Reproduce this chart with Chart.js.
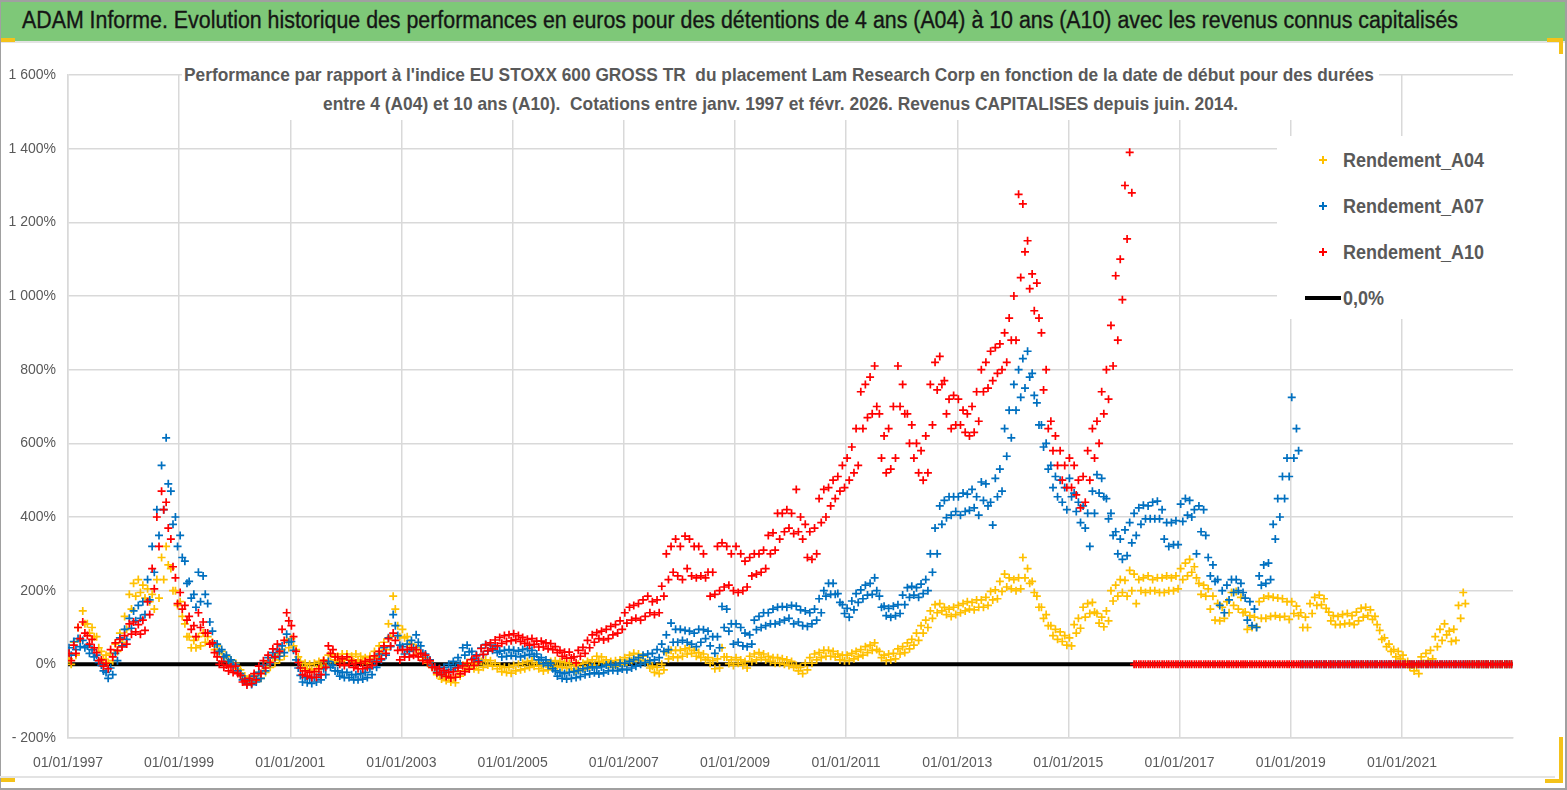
<!DOCTYPE html>
<html>
<head>
<meta charset="utf-8">
<script src="https://cdn.jsdelivr.net/npm/chart.js@4.4.1/dist/chart.umd.min.js"></script>
<style>
  html, body { margin: 0; padding: 0; background: #fff; }
  body { width: 1567px; height: 790px; position: relative; overflow: hidden;
         font-family: 'Liberation Sans Narrow', 'Liberation Sans', Arial, sans-serif; }
  #chart { position: absolute; left: 0; top: 0; }
  .abs { position: absolute; }
  .fit { display: inline-block; white-space: pre; transform-origin: 0 50%; }
  #banner { left: 0; top: 1px; width: 1567px; height: 40px; background: #7ec878; border-bottom: 2px solid #e3e3e3; }
  #title { left: 22px; top: 7px; font-size: 23px; color: #151515; line-height: 26px; -webkit-text-stroke: 0.35px #151515; }
  .sub { font-size: 19px; font-weight: bold; color: #595959; line-height: 22px; }
  #subBox { left: 182px; top: 58px; width: 1197px; height: 62px; background: #fff; }
  #legendBox { left: 1277px; top: 136px; width: 236px; height: 183px; background: #fff; }
  .lg { font-size: 20px; font-weight: bold; color: #595959; line-height: 24px; }
  .mk { position: absolute; width: 8px; height: 8px; }
  .mk::before { content: ''; position: absolute; left: 0; top: 3px; width: 8px; height: 2px; background: currentColor; }
  .mk::after { content: ''; position: absolute; left: 3px; top: 0; width: 2px; height: 8px; background: currentColor; }
  .edge { position: absolute; background: #a0a0a0; }
  .hand { position: absolute; background: #f4c21a; }
</style>
</head>
<body>
<canvas id="chart" width="1567" height="790"></canvas>

<div id="banner" class="abs"></div>
<div id="title" class="abs fit">ADAM Informe. Evolution historique des performances en euros pour des détentions de 4 ans (A04) à 10 ans (A10) avec les revenus connus capitalisés</div>

<div id="subBox" class="abs"></div>
<div id="sub1" class="abs fit sub" style="left:184px; top:64px;">Performance par rapport à l'indice EU STOXX 600 GROSS TR  du placement Lam Research Corp en fonction de la date de début pour des durées</div>
<div id="sub2" class="abs fit sub" style="left:323px; top:93px;">entre 4 (A04) et 10 ans (A10).  Cotations entre janv. 1997 et févr. 2026. Revenus CAPITALISES depuis juin. 2014.</div>

<div id="legendBox" class="abs"></div>
<div id="legend"></div>

<div class="edge" style="left:0; top:0; width:1567px; height:2px;"></div>
<div class="edge" style="left:0; top:0; width:1px; height:790px;"></div>
<div class="edge" style="left:1565px; top:0; width:2px; height:790px;"></div>
<div class="edge" style="left:0; top:788px; width:1567px; height:2px;"></div>
<div class="abs" style="left:0; top:776px; width:1555px; height:2px; background:#e3e3e3;"></div>
<div class="hand" style="left:1px; top:38px; width:14px; height:4px;"></div>
<div class="hand" style="left:1547px; top:38px; width:16px; height:4px;"></div>
<div class="hand" style="left:1559px; top:38px; width:4px; height:16px;"></div>
<div class="hand" style="left:1559px; top:737px; width:4px; height:46px;"></div>
<div class="hand" style="left:1545px; top:779px; width:18px; height:4px;"></div>
<div class="hand" style="left:1px; top:778px; width:14px; height:4px;"></div>

<script>
/* ─────────────────────────────────────────────
   Rendements A04 / A07 / A10 vs EU STOXX 600 GROSS TR
   start dates Jan 1997 → Dec 2022, values in %.
   For each month: upper (Hi) and lower (Lo) edge of the cloud of points
   ───────────────────────────────────────────── */

const startYear = 1997;
const tickYears = [1997, 1999, 2001, 2003, 2005, 2007, 2009, 2011, 2013, 2015, 2017, 2019, 2021];
const seriesNames = ['Rendement_A04', 'Rendement_A07', 'Rendement_A10', '0,0%'];
const seriesColors = ['#ffc000', '#0070c0', '#ff0000', '#000000'];

const a04Hi = [
  15, 60, 100, 145, 110, 100, 75, 35, 25, 30, 55, 85,         // 1997
  130, 190, 220, 230, 215, 205, 190, 230, 290, 320, 260, 200, // 1998
  170, 110, 75, 65, 75, 85, 75, 60, 50, 35, 22, 12,           // 1999
  3, -15, -32, -38, -30, -22, -5, 8, 18, 30, 40, 65,          // 2000
  70, 40, 8, 3, 0, 3, 8, 12, 25, 28, 22, 28,                  // 2001
  28, 22, 28, 22, 18, 22, 35, 50, 60, 110, 185, 105,          // 2002
  95, 75, 55, 45, 28, 18, 8, -12, -28, -30, -35, -36,         // 2003
  -18, -3, 5, 3, 0, 8, 12, 10, 3, -5, -8, -8,                 // 2004
  -3, 0, 3, 8, 10, 3, -3, 0, 8, 10, 8, 5,                     // 2005
  3, -3, 0, 3, 8, 12, 22, 20, 12, 8, 10, 12,                  // 2006
  18, 25, 30, 28, 22, 5, -5, -8, 0, 32, 38, 38,               // 2007
  38, 42, 45, 38, 32, 28, 18, 10, 15, 45, 20, 12,             // 2008
  18, 12, 8, 22, 28, 32, 28, 22, 18, 18, 15, 12,              // 2009
  8, -3, -8, 3, 18, 28, 32, 38, 38, 35, 28, 25,               // 2010
  25, 30, 35, 40, 48, 52, 58, 35, 25, 28, 30, 42,             // 2011
  48, 58, 68, 85, 105, 120, 145, 162, 165, 155, 150, 155,     // 2012
  160, 165, 170, 168, 175, 175, 182, 198, 202, 225, 245, 235, // 2013
  230, 235, 290, 260, 225, 185, 155, 135, 105, 95, 88, 78,    // 2014
  72, 108, 125, 155, 165, 168, 138, 128, 145, 200, 215, 230,  // 2015
  228, 255, 245, 230, 235, 240, 230, 235, 235, 240, 235, 240, // 2016
  260, 275, 285, 265, 220, 215, 205, 185, 165, 155, 170, 195, // 2017
  198, 182, 142, 132, 128, 170, 180, 185, 182, 180, 178, 170, // 2018
  170, 158, 140, 128, 165, 182, 188, 178, 142, 132, 130, 135, // 2019
  138, 132, 142, 152, 155, 148, 130, 92, 72, 55, 40, 35,      // 2020
  25, 8, -2, -5, 20, 30, 38, 75, 95, 110, 90, 95,             // 2021
  160, 195, 0, 0, 0, 0, 0, 0, 0, 0, 0, 0                      // 2022
];
const a04Lo = [
  0, 25, 65, 110, 85, 75, 45, 15, 5, 10, 35, 60,              // 1997
  95, 150, 185, 195, 180, 170, 150, 180, 230, 270, 200, 160,  // 1998
  130, 75, 45, 45, 50, 60, 55, 40, 30, 18, 8, 0,              // 1999
  -12, -32, -46, -50, -45, -38, -22, -8, 3, 12, 22, 45,       // 2000
  50, 20, -8, -12, -15, -12, -6, -2, 8, 12, 8, 12,            // 2001
  12, 8, 12, 8, 3, 8, 18, 30, 40, 75, 150, 75,                // 2002
  72, 55, 38, 28, 12, 3, -8, -28, -40, -44, -48, -50,         // 2003
  -32, -18, -10, -12, -15, -8, -2, -5, -12, -20, -22, -24,    // 2004
  -18, -15, -12, -8, -5, -12, -18, -15, -8, -5, -8, -10,      // 2005
  -12, -18, -15, -12, -8, -2, 8, 5, -2, -8, -5, -2,           // 2006
  5, 10, 12, 10, 5, -10, -22, -25, -15, 15, 20, 18,           // 2007
  22, 28, 30, 22, 18, 12, 3, -12, -10, 20, 2, -3,             // 2008
  3, -3, -10, 8, 12, 18, 12, 8, 3, 3, 0, -3,                  // 2009
  -8, -18, -25, -15, 3, 12, 18, 22, 22, 20, 12, 10,           // 2010
  10, 15, 20, 25, 32, 38, 40, 18, 10, 12, 15, 28,             // 2011
  32, 42, 52, 65, 85, 100, 125, 140, 145, 135, 130, 135,      // 2012
  140, 145, 150, 148, 155, 155, 160, 175, 178, 198, 210, 205, // 2013
  200, 205, 235, 220, 195, 155, 125, 105, 78, 68, 62, 52,     // 2014
  50, 85, 98, 128, 138, 142, 112, 102, 118, 172, 185, 195,    // 2015
  185, 200, 165, 200, 195, 200, 200, 195, 195, 200, 200, 205, // 2016
  230, 240, 250, 235, 190, 185, 150, 120, 118, 125, 140, 160, // 2017
  150, 140, 95, 100, 102, 125, 125, 130, 132, 128, 130, 122,  // 2018
  138, 132, 100, 100, 138, 160, 162, 152, 118, 108, 108, 110, // 2019
  112, 108, 118, 128, 132, 122, 108, 68, 48, 35, 20, 15,      // 2020
  5, -8, -18, -25, 2, 10, 15, 48, 65, 80, 62, 65,             // 2021
  125, 165, 0, 0, 0, 0, 0, 0, 0, 0, 0, 0                      // 2022
];

const a07Hi = [
  45, 62, 70, 65, 50, 40, 25, -2, -22, -10, 30, 72,           // 1997
  95, 125, 145, 160, 170, 230, 320, 420, 540, 615, 470, 400,  // 1998
  350, 280, 225, 190, 250, 240, 165, 90, 55, 40, 25, 12,      // 1999
  0, -25, -40, -43, -32, -22, -2, 18, 32, 40, 50, 82,         // 2000
  62, 12, -30, -35, -38, -35, -28, -12, 8, -2, -18, -22,      // 2001
  -22, -28, -28, -26, -22, -12, 8, 28, 45, 72, 135, 78,       // 2002
  48, 55, 65, 80, 50, 28, 12, -8, -12, -8, 0, 8,              // 2003
  18, 45, 52, 35, 26, 44, 54, 52, 48, 36, 38, 40,             // 2004
  38, 36, 40, 43, 38, 28, 18, 12, 3, -18, -22, -25,           // 2005
  -22, -20, -17, -12, -10, -7, -10, -7, -2, 0, -2, 3,         // 2006
  3, 8, 13, 18, 25, 28, 30, 40, 55, 80, 112, 95,              // 2007
  95, 92, 90, 85, 95, 94, 90, 75, 75, 157, 150, 110,          // 2008
  110, 100, 85, 80, 120, 130, 140, 140, 150, 155, 157, 155,   // 2009
  160, 158, 148, 145, 140, 150, 178, 200, 220, 220, 192, 162, // 2010
  152, 172, 192, 202, 215, 220, 235, 185, 158, 152, 158, 162, // 2011
  188, 208, 212, 208, 218, 230, 300, 370, 430, 445, 455, 455, // 2012
  455, 465, 462, 475, 455, 495, 490, 440, 505, 530, 640, 690, // 2013
  760, 800, 830, 850, 790, 710, 650, 600, 540, 510, 500, 480, // 2014
  505, 465, 440, 430, 410, 470, 515, 505, 450, 410, 360, 340, // 2015
  365, 385, 410, 425, 432, 430, 440, 443, 420, 385, 385, 390, // 2016
  435, 450, 445, 420, 430, 420, 290, 270, 230, 200, 215, 230, // 2017
  230, 220, 180, 170, 150, 240, 270, 275, 380, 450, 510, 560, // 2018
  725, 640, 0, 0, 0, 0, 0, 0, 0, 0, 0, 0,                     // 2019
  0, 0, 0, 0, 0, 0, 0, 0, 0, 0, 0, 0,                         // 2020
  0, 0, 0, 0, 0, 0, 0, 0, 0, 0, 0, 0,                         // 2021
  0, 0, 0, 0, 0, 0, 0, 0, 0, 0, 0, 0                          // 2022
];
const a07Lo = [
  25, 40, 48, 45, 30, 20, 5, -18, -38, -28, 10, 50,           // 1997
  68, 98, 118, 125, 135, 175, 250, 350, 420, 490, 380, 320,   // 1998
  290, 220, 180, 155, 170, 190, 115, 55, 35, 20, 8, -3,       // 1999
  -18, -42, -52, -55, -48, -38, -18, 2, 18, 22, 32, 60,       // 2000
  38, -10, -48, -50, -52, -48, -42, -28, -8, -18, -32, -36,   // 2001
  -36, -42, -42, -40, -36, -28, -8, 12, 25, 48, 105, 52,      // 2002
  28, 35, 45, 60, 30, 12, -3, -22, -28, -22, -14, -8,         // 2003
  2, 25, 34, 16, 10, 26, 36, 38, 32, 20, 22, 24,              // 2004
  22, 20, 24, 27, 22, 12, 2, -3, -12, -32, -38, -40,          // 2005
  -38, -36, -33, -28, -26, -23, -26, -23, -18, -16, -18, -13, // 2006
  -15, -10, -5, 0, 5, 10, 12, 18, 35, 40, 60, 60,             // 2007
  65, 60, 55, 48, 60, 70, 50, 30, 45, 100, 90, 55,            // 2008
  60, 50, 48, 55, 94, 100, 105, 110, 110, 115, 120, 125,      // 2009
  110, 115, 105, 103, 110, 120, 140, 185, 190, 190, 168, 138, // 2010
  128, 148, 168, 178, 188, 190, 200, 155, 132, 128, 132, 138, // 2011
  162, 182, 188, 182, 192, 200, 250, 300, 380, 398, 405, 415, // 2012
  405, 415, 418, 425, 405, 445, 430, 378, 455, 470, 565, 615, // 2013
  690, 725, 750, 780, 730, 650, 590, 530, 480, 455, 440, 420, // 2014
  455, 415, 385, 370, 320, 410, 465, 455, 395, 350, 300, 285, // 2015
  295, 330, 350, 380, 395, 395, 395, 395, 340, 320, 325, 325, // 2016
  388, 405, 400, 300, 360, 350, 240, 225, 160, 140, 175, 195, // 2017
  200, 195, 120, 105, 100, 215, 220, 230, 340, 400, 450, 510, // 2018
  560, 580, 0, 0, 0, 0, 0, 0, 0, 0, 0, 0,                     // 2019
  0, 0, 0, 0, 0, 0, 0, 0, 0, 0, 0, 0,                         // 2020
  0, 0, 0, 0, 0, 0, 0, 0, 0, 0, 0, 0,                         // 2021
  0, 0, 0, 0, 0, 0, 0, 0, 0, 0, 0, 0                          // 2022
];

const a10Hi = [
  30, 52, 100, 115, 78, 68, 32, 12, 3, 40, 58, 68,            // 1997
  78, 110, 115, 108, 120, 170, 260, 400, 470, 440, 340, 235,  // 1998
  195, 160, 130, 105, 140, 115, 85, 58, 20, 8, -2, -7,        // 1999
  -5, -30, -45, -38, -25, -5, 10, 25, 42, 55, 95, 140,        // 2000
  105, 35, -10, -18, -22, -20, -12, 10, 50, 40, 20, 15,       // 2001
  20, 10, 3, 3, 8, 13, 23, 35, 50, 70, 85, 38,                // 2002
  40, 40, 45, 40, 30, 25, 10, -7, -12, -17, -22, -20,         // 2003
  -10, -4, 3, 13, 23, 43, 53, 58, 66, 73, 78, 80,             // 2004
  83, 78, 73, 68, 70, 63, 63, 58, 56, 48, 38, 33,             // 2005
  33, 20, 38, 46, 65, 80, 86, 90, 95, 103, 108, 118,          // 2006
  140, 155, 160, 165, 175, 185, 170, 175, 212, 300, 320, 340, // 2007
  320, 348, 340, 320, 320, 300, 250, 250, 320, 330, 320, 300, // 2008
  320, 300, 280, 290, 300, 300, 310, 350, 357, 410, 410, 420, // 2009
  410, 475, 400, 380, 360, 370, 450, 475, 480, 500, 510, 540, // 2010
  560, 590, 640, 740, 760, 780, 810, 680, 620, 640, 700, 810, // 2011
  760, 680, 650, 600, 580, 620, 760, 820, 836, 770, 720, 730, // 2012
  720, 690, 680, 700, 740, 800, 820, 850, 860, 870, 900, 940, // 2013
  1000, 1276, 1250, 1150, 1060, 1035, 900, 800, 660, 620, 580, 540, // 2014
  560, 540, 500, 510, 580, 640, 660, 740, 800, 920, 1055, 1100,     // 2015
  1300, 1390, 0, 0, 0, 0, 0, 0, 0, 0, 0, 0,                   // 2016
  0, 0, 0, 0, 0, 0, 0, 0, 0, 0, 0, 0,                         // 2017
  0, 0, 0, 0, 0, 0, 0, 0, 0, 0, 0, 0,                         // 2018
  0, 0, 0, 0, 0, 0, 0, 0, 0, 0, 0, 0,                         // 2019
  0, 0, 0, 0, 0, 0, 0, 0, 0, 0, 0, 0,                         // 2020
  0, 0, 0, 0, 0, 0, 0, 0, 0, 0, 0, 0,                         // 2021
  0, 0, 0, 0, 0, 0, 0, 0, 0, 0, 0, 0                          // 2022
];
const a10Lo = [
  10, 30, 70, 85, 55, 45, 10, -5, -12, 20, 38, 47,            // 1997
  55, 82, 88, 82, 92, 135, 205, 320, 420, 370, 265, 165,      // 1998
  150, 120, 95, 75, 100, 85, 55, 32, 0, -8, -18, -22,         // 1999
  -25, -48, -56, -52, -42, -25, -10, 5, 20, 35, 65, 118,      // 2000
  75, 5, -28, -32, -36, -35, -28, -8, 30, 20, 0, -3,          // 2001
  0, -8, -12, -12, -8, -3, 7, 15, 30, 50, 65, 12,             // 2002
  20, 20, 25, 20, 10, 5, -8, -23, -28, -33, -37, -35,         // 2003
  -26, -20, -13, -3, 7, 27, 37, 42, 50, 57, 62, 64,           // 2004
  67, 62, 57, 52, 54, 47, 47, 42, 40, 32, 22, 17,             // 2005
  17, 4, 22, 30, 45, 60, 70, 66, 70, 80, 85, 95,              // 2006
  112, 120, 125, 120, 130, 140, 135, 140, 185, 230, 250, 240, // 2007
  230, 260, 240, 235, 240, 235, 185, 190, 200, 210, 215, 200, // 2008
  195, 200, 210, 240, 245, 250, 260, 300, 310, 340, 360, 370, // 2009
  355, 360, 340, 290, 285, 300, 385, 400, 430, 450, 470, 480, // 2010
  500, 520, 540, 640, 670, 680, 700, 560, 520, 530, 560, 700, // 2011
  680, 600, 560, 520, 500, 520, 650, 745, 760, 680, 640, 650, // 2012
  650, 630, 620, 630, 660, 740, 750, 770, 790, 800, 820, 880, // 2013
  880, 1050, 1120, 1020, 960, 940, 745, 640, 580, 540, 500, 480,    // 2014
  480, 460, 425, 440, 500, 560, 600, 680, 720, 810, 880, 990,       // 2015
  1155, 1280, 0, 0, 0, 0, 0, 0, 0, 0, 0, 0,                   // 2016
  0, 0, 0, 0, 0, 0, 0, 0, 0, 0, 0, 0,                         // 2017
  0, 0, 0, 0, 0, 0, 0, 0, 0, 0, 0, 0,                         // 2018
  0, 0, 0, 0, 0, 0, 0, 0, 0, 0, 0, 0,                         // 2019
  0, 0, 0, 0, 0, 0, 0, 0, 0, 0, 0, 0,                         // 2020
  0, 0, 0, 0, 0, 0, 0, 0, 0, 0, 0, 0,                         // 2021
  0, 0, 0, 0, 0, 0, 0, 0, 0, 0, 0, 0                          // 2022
];

const xMin = Date.UTC(1997, 0, 1);
const xMax = Date.UTC(2023, 0, 1);

// month index -> timestamps: upper edge early in the month, lower edge late in the month
const toPoints = (hi, lo) => {
  const pts = [];
  hi.forEach((v, i) => {
    pts.push({ x: Date.UTC(startYear, i, 8), y: v });
    pts.push({ x: Date.UTC(startYear, i, 22), y: lo[i] });
  });
  return pts;
};

const fmtPct = (v) => {
  const s = Math.abs(v).toString().replace(/\B(?=(\d{3})+(?!\d))/g, ' ');
  return (v < 0 ? '- ' : '') + s + '%';
};

const crossSet = (idx, hi, lo, order) => ({
  label: seriesNames[idx],
  data: toPoints(hi, lo),
  pointStyle: 'cross',
  pointRadius: 4,
  pointBorderWidth: 1.7,
  borderColor: seriesColors[idx],
  backgroundColor: seriesColors[idx],
  showLine: false,
  order: order
});

const tickFont = { family: "'Liberation Sans', Arial, sans-serif", size: 14 };

const chart = new Chart(document.getElementById('chart'), {
  type: 'scatter',
  data: {
    datasets: [
      crossSet(0, a04Hi, a04Lo, 2),
      crossSet(1, a07Hi, a07Lo, 1),
      crossSet(2, a10Hi, a10Lo, 0),
      {
        label: seriesNames[3],
        type: 'line',
        data: [{ x: xMin, y: 0 }, { x: xMax, y: 0 }],
        borderColor: seriesColors[3],
        borderWidth: 4,
        pointRadius: 0,
        order: 3
      }
    ]
  },
  options: {
    responsive: false,
    animation: false,
    layout: { padding: { left: 0, top: 75, right: 54, bottom: 12 } },
    plugins: {
      legend: { display: false },
      tooltip: { enabled: false }
    },
    scales: {
      x: {
        type: 'linear',
        min: xMin,
        max: xMax,
        afterBuildTicks: (scale) => {
          scale.ticks = tickYears.map(y => ({ value: Date.UTC(y, 0, 1) }));
        },
        afterFit: (scale) => { scale.height = 40; },
        grid: { color: '#d9d9d9', lineWidth: 1.5, drawTicks: false },
        border: { display: true, color: '#d9d9d9', width: 1.5 },
        ticks: {
          autoSkip: false,
          maxRotation: 0,
          padding: 17,
          color: '#595959',
          font: tickFont,
          callback: (v) => '01/01/' + new Date(v).getUTCFullYear()
        }
      },
      y: {
        min: -200,
        max: 1600,
        afterFit: (scale) => { scale.width = 68; },
        grid: { color: '#d9d9d9', lineWidth: 1.5, drawTicks: false },
        border: { display: true, color: '#d9d9d9', width: 1.5 },
        ticks: {
          stepSize: 200,
          padding: 12,
          color: '#595959',
          font: tickFont,
          callback: (v) => fmtPct(v)
        }
      }
    }
  }
});

// Legend drawn in html, on a white box over the plot
function buildLegend() {
  const box = document.getElementById('legend');
  const rowY = [160, 206, 252, 298];
  let html = '';
  seriesNames.forEach((name, i) => {
    const y = rowY[i];
    if (i < 3) {
      html += `<span class="mk" style="left:1319px; top:${y - 4}px; color:${seriesColors[i]}"></span>`;
    } else {
      html += `<span class="abs" style="left:1305px; top:${y - 2}px; width:36px; height:4px; background:#000"></span>`;
    }
    html += `<span class="abs fit lg" style="left:1343px; top:${y - 12}px">${name}</span>`;
  });
  box.innerHTML = html;
}
buildLegend();

// squeeze the texts to the widths they take in the original
function fitWidth(el, target) {
  const w = el.getBoundingClientRect().width;
  if (w > 0) el.style.transform = 'scaleX(' + (target / w) + ')';
}
fitWidth(document.getElementById('title'), 1436);
fitWidth(document.getElementById('sub1'), 1190);
fitWidth(document.getElementById('sub2'), 915);

const lgLabels = document.querySelectorAll('#legend .lg');
const lgScale = 141 / lgLabels[0].getBoundingClientRect().width;
lgLabels.forEach(el => { el.style.transform = 'scaleX(' + lgScale + ')'; });
</script>
</body>
</html>
